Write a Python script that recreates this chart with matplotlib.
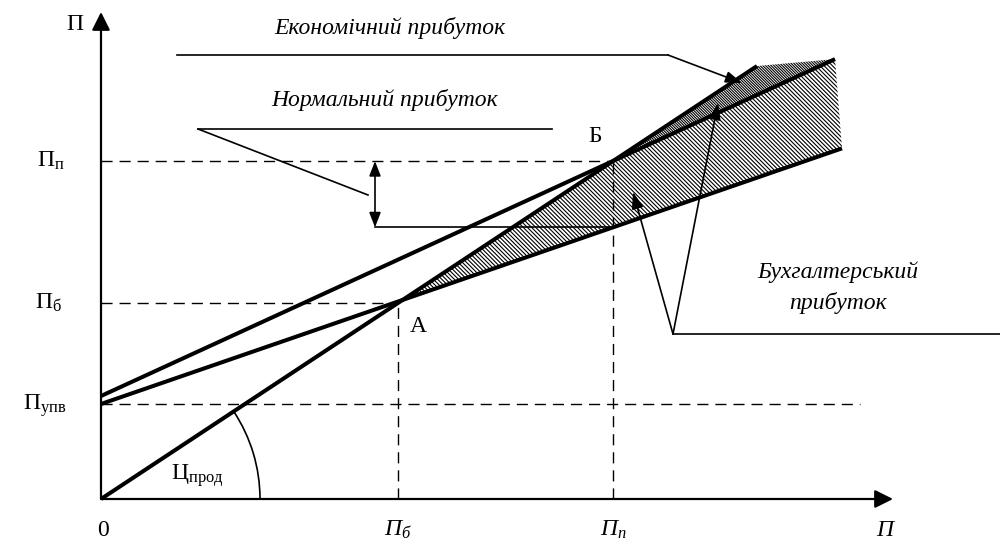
import numpy as np
import matplotlib
matplotlib.use("Agg")
import matplotlib.pyplot as plt
from matplotlib.patches import Arc

plt.rcParams['font.family'] = ['Liberation Serif', 'DejaVu Serif']
plt.rcParams['mathtext.fontset'] = 'custom'
plt.rcParams['mathtext.rm'] = 'Liberation Serif'
plt.rcParams['mathtext.it'] = 'Liberation Serif:italic'
plt.rcParams['hatch.linewidth'] = 0.8

# ---- schematic values (data units) ----
Q_b = 297          # break-even output
Q_p = 512          # planned output
Q_axis = 792       # length of output axis
P_axis = 487       # length of value axis
price = 0.66       # revenue slope (Ц_прод)
FC = 95            # fixed costs (П_упв)
v_acc = 0.345      # accounting cost slope
FC_econ = 103      # fixed + normal profit
v_econ = 0.459     # economic cost slope
Q_rev_end = 656
Q_acc_end = 741
Q_econ_end = 734
Q_fc_end = 759
arc_radius = 159

rev = lambda q: price * q
acc = lambda q: FC + v_acc * q
eco = lambda q: FC_econ + v_econ * q

P_b = rev(Q_b)
P_p = rev(Q_p)

fig = plt.figure(figsize=(10, 5.4), dpi=100)
ax = fig.add_axes([0, 0, 1, 1])
ax.set_xlim(-101, 899)
ax.set_ylim(-41, 499)
ax.axis('off')

k = 'black'

# hatched areas
qs1 = np.linspace(Q_b, Q_p, 20)
qs2 = np.linspace(Q_p, Q_econ_end, 20)
qs3 = np.linspace(Q_b, Q_acc_end, 20)
light_x = list(qs1) + list(qs2) + [Q_acc_end] + list(qs3[::-1])
light_y = list(rev(qs1)) + list(eco(qs2)) + [acc(Q_acc_end)] + list(acc(qs3[::-1]))
ax.fill(light_x, light_y, facecolor='none', edgecolor=k, linewidth=0,
        hatch='\\' * 8, zorder=1)
dense_x = [Q_p, Q_rev_end, Q_econ_end]
dense_y = [rev(Q_p), rev(Q_rev_end), eco(Q_econ_end)]
ax.fill(dense_x, dense_y, facecolor='none', edgecolor=k, linewidth=0,
        hatch='\\' * 12, zorder=1)

# dashed guides
dash = dict(color=k, lw=1.0, dashes=(8, 5), zorder=2)
ax.plot([0, Q_p], [P_p, P_p], **dash)
ax.plot([0, Q_b], [P_b, P_b], **dash)
ax.plot([0, Q_fc_end], [FC, FC], **dash)
ax.plot([Q_b, Q_b], [0, P_b], **dash)
ax.plot([Q_p, Q_p], [0, P_p], **dash)

# main lines
ax.plot([0, Q_rev_end], [0, rev(Q_rev_end)], color=k, lw=2.9, solid_capstyle='butt', zorder=3)
ax.plot([0, Q_acc_end], [FC, acc(Q_acc_end)], color=k, lw=2.9, solid_capstyle='butt', zorder=3)
ax.plot([0, Q_econ_end], [FC_econ, eco(Q_econ_end)], color=k, lw=2.9, solid_capstyle='butt', zorder=3)

# axes with arrows
def arrow(p0, p1, lw=1.5, hl=1.1, hw=0.55, style='-|>'):
    ax.annotate('', xy=p1, xytext=p0,
                arrowprops=dict(arrowstyle=f'{style},head_length={hl},head_width={hw}',
                                lw=lw, color=k, shrinkA=0, shrinkB=0,
                                mutation_scale=10), zorder=4)

arrow((0, 0), (0, P_axis), lw=1.6)
arrow((0, 0), (Q_axis, 0), lw=1.6)

# angle arc
ang = np.degrees(np.arctan(price))
ax.add_patch(Arc((0, 0), 2 * arc_radius, 2 * arc_radius, theta1=0, theta2=ang,
                 color=k, lw=1.2, zorder=3))

# normal profit: double arrow + guide
ax.plot([274, Q_p], [acc(Q_p), acc(Q_p)], color=k, lw=1.2, zorder=3)
arrow((274, acc(Q_p)), (274, P_p), lw=1.2, hl=0.9, hw=0.35, style='<|-|>')
ax.plot([97, 451], [370, 370], color=k, lw=1.2)
ax.plot([97, 267], [370, 304], color=k, lw=1.2)

# economic profit pointer
ax.plot([76, 567], [444, 444], color=k, lw=1.2)
arrow((567, 444), (641, 416), lw=1.2, hl=1.0, hw=0.35)

# accounting profit pointers
ax.plot([572, 899], [165, 165], color=k, lw=1.2)
arrow((572, 165), (532, 307), lw=1.2, hl=1.0, hw=0.35)
arrow((572, 165), (617, 396), lw=1.2, hl=1.0, hw=0.35)

# texts
fs = 17
ax.text(-26, 474, 'П', fontsize=fs, ha='center', va='center')
ax.text(-50, P_p, r'$\mathrm{П}_{\mathrm{п}}$', fontsize=fs, ha='center', va='center')
ax.text(-52, P_b, r'$\mathrm{П}_{\mathrm{б}}$', fontsize=fs, ha='center', va='center')
ax.text(-56, FC - 2, r'$\mathrm{П}_{\mathrm{упв}}$', fontsize=fs, ha='center', va='center')
ax.text(2, -31, '0', fontsize=fs, ha='center', va='center')
ax.text(Q_b, -31, r'$\mathit{П}_{\mathit{б}}$', fontsize=fs, ha='center', va='center')
ax.text(Q_p, -31, r'$\mathit{П}_{\mathit{п}}$', fontsize=fs, ha='center', va='center')
ax.text(784, -31, 'П', fontsize=fs, style='italic', ha='center', va='center')
ax.text(96, 23, r'$\mathrm{Ц}_{\mathrm{прод}}$', fontsize=fs, ha='center', va='center')
ax.text(317, 173, 'А', fontsize=fs, ha='center', va='center')
ax.text(494, 363, 'Б', fontsize=fs, ha='center', va='center')
ax.text(289, 471, 'Економічний прибуток', fontsize=fs, style='italic', ha='center', va='center')
ax.text(284, 399, 'Нормальний прибуток', fontsize=fs, style='italic', ha='center', va='center')
ax.text(737, 227, 'Бухгалтерський', fontsize=fs, style='italic', ha='center', va='center')
ax.text(737, 196, 'прибуток', fontsize=fs, style='italic', ha='center', va='center')

fig.savefig('out.png', dpi=100)
